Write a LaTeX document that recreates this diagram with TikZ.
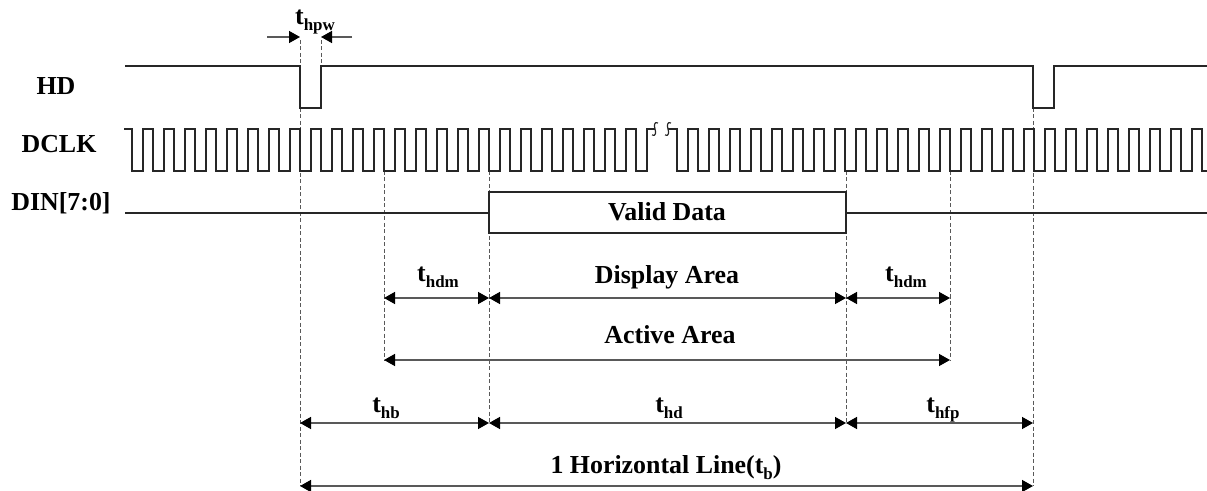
\documentclass[tikz,border=0pt]{standalone}
\usepackage{fontspec}
\setmainfont{Liberation Serif}
\usetikzlibrary{arrows.meta}
% timing label "t" with a lowered subscript
\newcommand{\tlab}[1]{t\raisebox{-6bp}{\fontsize{17}{17}\selectfont #1}}
\begin{document}
\begin{tikzpicture}[x=1bp,y=-1bp,
  wave/.style={line width=1.2bp, black!85},
  guide/.style={line width=0.9bp, black!65, dash pattern=on 4bp off 2.5bp},
  dim/.style={line width=1.4bp, black!65, >={Triangle[length=11bp,width=12bp,color=black]}},
  lbl/.style={font=\fontsize{26}{30}\selectfont\bfseries, inner sep=0pt, anchor=base},
]
\useasboundingbox (0,0) rectangle (1207,491);

% reference instants
\coordinate (pwA) at (300,66);  \coordinate (pwB) at (321,66);
\coordinate (pwAt) at (300,40); \coordinate (pwBt) at (321,40);
\coordinate (pwAl) at (300,108);
\coordinate (hdmL) at (384,171); \coordinate (hdmR) at (950,171);
\coordinate (dsL) at (489,171);  \coordinate (dsR) at (846,171);
\coordinate (lnE) at (1033,108);

% dimension levels
\coordinate (hdmL1) at (384,298); \coordinate (dsL1) at (489,298);
\coordinate (dsR1) at (846,298);  \coordinate (hdmR1) at (950,298);
\coordinate (hdmL2) at (384,360); \coordinate (hdmR2) at (950,360);
\coordinate (lnA3) at (300,423);  \coordinate (dsL3) at (489,423);
\coordinate (dsR3) at (846,423);  \coordinate (lnE3) at (1033,423);
\coordinate (lnA4) at (300,486);  \coordinate (lnE4) at (1033,486);

% dashed guide lines
\draw[guide] (pwAt) -- (pwA);
\draw[guide] (pwBt) -- (pwB);
\draw[guide] (pwAl) -- (lnA4);
\draw[guide] (hdmL) -- (hdmL2);
\draw[guide] (hdmR) -- (hdmR2);
\draw[guide] (dsL) -- (dsL3);
\draw[guide] (dsR) -- (dsR3);
\draw[guide] (lnE) -- (lnE4);

% signal names
\node[lbl] (nHD) at (56,95) {HD};
\node[lbl] (nCK) at (59,153) {DCLK};
\node[lbl] (nDI) at (61,211) {DIN[7:0]};

% HD
\draw[wave] (125,66) -- (300,66) -- (300,108) -- (321,108) -- (321,66)
  -- (1033,66) -- (1033,108) -- (1054,108) -- (1054,66) -- (1207,66);

% DCLK, first part
\draw[wave] (124,129) foreach \k in {0,...,24} {
    -- ({132+21*\k},129) -- ({132+21*\k},171) -- ({143+21*\k},171) -- ({143+21*\k},129)
  } -- (655,129);
% break marks
\draw[wave] (658,123) .. controls (654,121) and (654,126) .. (655,129)
  .. controls (656,132) and (656,137) .. (652,135);
\draw[wave] (671,123) .. controls (667,121) and (667,126) .. (668,129)
  .. controls (669,132) and (669,137) .. (665,135);
% DCLK, second part
\draw[wave] (668,129) foreach \k in {0,...,24} {
    -- ({677+21*\k},129) -- ({677+21*\k},171) -- ({688+21*\k},171) -- ({688+21*\k},129)
  } -- (1202,129) -- (1202,171) -- (1207,171);

% DIN
\coordinate (vdA) at (489,192); \coordinate (vdB) at (846,233);
\draw[wave] (125,213) -- (489,213);
\draw[wave] (846,213) -- (1207,213);
\draw[wave] (vdA) rectangle (vdB);
\node[lbl] (vd) at (667,221) {Valid Data};

% t_hpw
\coordinate (pwAo) at (267,37); \coordinate (pwAi) at (300,37);
\coordinate (pwBo) at (352,37); \coordinate (pwBi) at (321,37);
\draw[dim,->] (pwAo) -- (pwAi);
\draw[dim,->] (pwBo) -- (pwBi);
\node[lbl] (thpw) at (315,25) {\tlab{hpw}};

% display row
\draw[dim,<->] (hdmL1) -- (dsL1);
\draw[dim,<->] (dsL1) -- (dsR1);
\draw[dim,<->] (dsR1) -- (hdmR1);
\node[lbl] (thdmL) at (438,282) {\tlab{hdm}};
\node[lbl] (disp) at (667,284) {Display Area};
\node[lbl] (thdmR) at (906,282) {\tlab{hdm}};

% active row
\draw[dim,<->] (hdmL2) -- (hdmR2);
\node[lbl] (act) at (670,344) {Active Area};

% blanking / data / front porch row
\draw[dim,<->] (lnA3) -- (dsL3);
\draw[dim,<->] (dsL3) -- (dsR3);
\draw[dim,<->] (dsR3) -- (lnE3);
\node[lbl] (thb) at (386,412) {\tlab{hb}};
\node[lbl] (thd) at (669,412) {\tlab{hd}};
\node[lbl] (thfp) at (943,412) {\tlab{hfp}};

% whole line
\draw[dim,<->] (lnA4) -- (lnE4);
\node[lbl] (hline) at (666,473) {1 Horizontal Line(\tlab{b})};
\end{tikzpicture}
\end{document}
